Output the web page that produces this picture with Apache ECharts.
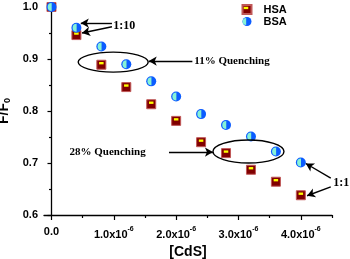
<!DOCTYPE html>
<html>
<head>
<meta charset="utf-8">
<script src="https://cdn.jsdelivr.net/npm/echarts@6/dist/echarts.min.js"></script>
<style>
  html, body { margin: 0; padding: 0; background: #fff; }
  #chart { width: 350px; height: 259px; }
</style>
</head>
<body>
<div id="chart"></div>
<script>
// [CdS] in units of 1e-6 M
const cds = [0, 0.4, 0.8, 1.2, 1.6, 2.0, 2.4, 2.8, 3.2, 3.6, 4.0];
const hsa = [1.0, 0.946, 0.889, 0.846, 0.813, 0.781, 0.740, 0.719, 0.687, 0.664, 0.638];
const bsa = [1.0, 0.960, 0.924, 0.890, 0.857, 0.828, 0.794, 0.773, 0.751, 0.722, 0.701];
const xLabels = [0, 1, 2, 3, 4];
const xMinor = [0.5, 1.5, 2.5, 3.5, 4.5];

const pair = (xs, ys) => xs.map((x, i) => [x, ys[i]]);
const hsaData = pair(cds, hsa);
const bsaData = pair(cds, bsa);

// marker overlays (box points keep the path scaled to the full symbol)
const BAR = 'path://M0,0L0,0M10,10L10,10M2.5,2H7.5V4.6H2.5Z';
const HALF = 'path://M0,0L0,0M10,10L10,10M5.2,1A4,4,0,0,0,5.2,9Z';

const chart = echarts.init(document.getElementById('chart'));
const bold = { fontFamily: 'Liberation Sans', fontWeight: 'bold', color: '#000' };
const serif = { fontFamily: 'Liberation Serif', fontWeight: 'bold', fill: '#000' };

const arrow = (a, b) => [{ coord: a }, { coord: b }];

chart.setOption({
  animation: false,
  grid: { left: 44, right: 18, top: 7, bottom: 44, outerBoundsMode: 'none' },
  legend: [
    {
      orient: 'vertical', left: 236.5, top: -1, itemWidth: 9, itemHeight: 9, itemGap: 1,
      data: ['HSA', 'BSA'],
      textStyle: Object.assign({ fontSize: 11, padding: [0, 0, 0, 7] }, bold)
    },
    {
      orient: 'vertical', left: 236.5, top: -1, itemWidth: 9, itemHeight: 9, itemGap: 1,
      data: ['HSA2', 'BSA2'],
      formatter: n => n.slice(0, 3),
      textStyle: Object.assign({}, bold, { fontSize: 11, padding: [0, 0, 0, 7], color: 'rgba(0,0,0,0)' })
    }
  ],
  xAxis: [
    {
      type: 'value', min: -0.12, max: 4.5,
      splitLine: { show: false },
      axisLine: { lineStyle: { color: '#000', width: 1.3 } },
      axisTick: { customValues: xLabels, length: 5, lineStyle: { color: '#000', width: 1.2 } },
      axisLabel: {
        customValues: xLabels, margin: 11,
        formatter: v => v === 0 ? '{a|0.0}' : '{a|' + v.toFixed(1) + 'x10}{s|-6}',
        rich: {
          a: Object.assign({ fontSize: 11 }, bold),
          s: Object.assign({ fontSize: 7, verticalAlign: 'top', padding: [0, 0, 11, 0] }, bold)
        }
      },
      name: '[CdS]', nameLocation: 'middle', nameGap: 24,
      nameTextStyle: Object.assign({ fontSize: 14 }, bold)
    },
    {
      type: 'value', min: -0.12, max: 4.5, position: 'bottom',
      splitLine: { show: false },
      axisLine: { show: false },
      axisLabel: { show: false },
      axisTick: { customValues: xMinor, length: 3, lineStyle: { color: '#000', width: 1.2 } }
    }
  ],
  yAxis: {
    type: 'value', min: 0.6, max: 1.0, interval: 0.1,
    splitLine: { show: false },
    axisLine: { show: true, lineStyle: { color: '#000', width: 1.3 } },
    axisTick: { show: true, length: 4, lineStyle: { color: '#000', width: 1.2 } },
    minorTick: { show: true, splitNumber: 2, length: 2.5, lineStyle: { color: '#000', width: 1.2 } },
    axisLabel: Object.assign({ fontSize: 11, margin: 6, formatter: v => v.toFixed(1) }, bold),
    name: '{a|F/F}{b|0}', nameLocation: 'middle', nameGap: 32,
    nameTextStyle: {
      rich: {
        a: Object.assign({ fontSize: 14 }, bold),
        b: Object.assign({ fontSize: 9, padding: [6, 0, 0, 0] }, bold)
      }
    }
  },
  series: [
    {
      name: 'HSA', type: 'scatter', data: hsaData, symbol: 'rect', symbolSize: 9,
      itemStyle: { color: '#800000', borderColor: '#c05858', borderWidth: 1, opacity: 1 },
      markLine: {
        silent: true, symbol: ['none', 'arrow'], symbolSize: [7, 8], label: { show: false },
        lineStyle: { color: '#000', width: 1.4, type: 'solid' },
        data: [
          arrow([0.97, 0.969], [0.47, 0.969]),
          arrow([0.97, 0.962], [0.49, 0.950]),
          arrow([2.26, 0.896], [1.56, 0.896]),
          arrow([1.885, 0.721], [2.59, 0.721]),
          arrow([4.48, 0.671], [4.08, 0.699]),
          arrow([4.48, 0.654], [4.10, 0.637])
        ]
      }
    },
    {
      name: 'HSA2', type: 'scatter', data: hsaData, symbol: BAR, symbolSize: 9,
      itemStyle: { color: '#ffff00', opacity: 1 }
    },
    {
      name: 'BSA', type: 'scatter', data: bsaData, symbol: 'circle', symbolSize: 10,
      itemStyle: { color: '#0b5cff', opacity: 1 }
    },
    {
      name: 'BSA2', type: 'scatter', data: bsaData, symbol: HALF, symbolSize: 10,
      itemStyle: { color: '#86f2d6', opacity: 1 }
    }
  ]
});

// annotations placed in data coordinates
const px = p => chart.convertToPixel({ xAxisIndex: 0, yAxisIndex: 0 }, p);
const ellipse = (c, rx, ry) => {
  const [cx, cy] = px(c);
  return { type: 'ellipse', shape: { cx, cy, rx, ry }, style: { fill: 'none', stroke: '#000', lineWidth: 1.4 }, z: 100 };
};
const note = (p, text, size, align) => {
  const [x, y] = px(p);
  return { type: 'text', x, y, z: 100,
    style: Object.assign({ text, fontSize: size, align, verticalAlign: 'middle' }, serif) };
};
chart.setOption({
  graphic: [
    ellipse([0.99, 0.894], 35, 10),
    ellipse([3.16, 0.722], 35.5, 11.5),
    note([0.99, 0.963], '1:10', 12, 'left'),
    note([2.29, 0.896], '11% Quenching', 11, 'left'),
    note([0.90, 0.721], '28% Quenching', 11, 'center'),
    note([4.52, 0.662], '1:1', 12, 'left')
  ]
});
</script>
</body>
</html>
